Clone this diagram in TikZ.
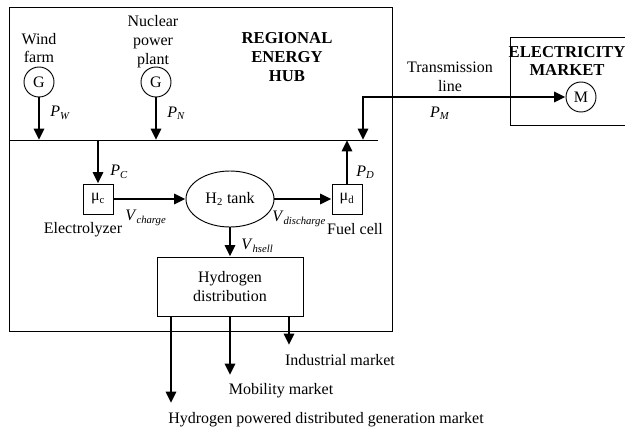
\documentclass[tikz,border=0pt]{standalone}
\usepackage{fontspec}
\setmainfont{Liberation Serif}
\usepackage{tikz}
\usetikzlibrary{shapes.geometric, arrows.meta, positioning, calc}
\newcommand{\vsub}[2]{\textit{#1}\textsubscript{\textit{#2}}}
\tikzset{
  gen/.style={circle, draw, minimum size=30*0.75pt, inner sep=0pt,
    line width=0.7pt},
  unitbox/.style={rectangle, draw, minimum size=30*0.75pt, inner sep=0pt,
    line width=0.7pt},
  tankshape/.style={ellipse, draw, minimum width=88*0.75pt,
    minimum height=56*0.75pt, inner sep=0pt, line width=0.7pt},
  distbox/.style={rectangle, draw, minimum width=146*0.75pt,
    minimum height=59*0.75pt, align=center, line width=0.7pt},
  txt/.style={align=center, inner sep=0pt},
  title/.style={align=center, inner sep=0pt, font=\fontsize{12.5}{14.2}\selectfont\bfseries},
  arrow/.style={-{Triangle[length=8.5pt, width=7.5pt]}, line width=2.1pt},
  biarrow/.style={{Triangle[length=8.5pt, width=7.5pt]}-{Triangle[length=8.5pt, width=7.5pt]},
    line width=2.1pt},
  line/.style={line width=0.7pt}
}

\begin{document}
\begin{tikzpicture}[x=0.75pt, y=-0.75pt,
  every node/.append style={font=\fontsize{12}{14.2}\selectfont}]
  \useasboundingbox (0,0) rectangle (625,429);
  % regional hub frame and busbar
  \draw[line] (9,7) rectangle (392,331);
  \coordinate (busl) at (9,140);
  \coordinate (busr) at (378,140);
  \draw[line] (busl) -- (busr);
  \node[title] (hub) at (287,57) {REGIONAL\\ENERGY\\HUB};
  % generators
  \node[gen] (gw) at (39,82) {G};
  \node[txt] (lw) at (39,48) {Wind\\farm};
  \node[gen] (gn) at (156,82) {G};
  \node[txt] (ln) at (153,42) {Nuclear\\power\\plant};
  \coordinate (bw) at (gw |- busl);
  \coordinate (bn) at (gn |- busl);
  \draw[arrow] (gw) -- (bw);
  \draw[arrow] (gn) -- (bn);
  \node[txt, anchor=west] (pw) at (50,113) {\vsub{P}{W}};
  \node[txt, anchor=west] (pn) at (167,113) {\vsub{P}{N}};
  % electrolyzer, tank, fuel cell
  \node[unitbox] (ez) at (98,199) {μ\textsubscript{c}};
  \node[txt] (lez) at (83,230) {Electrolyzer};
  \node[tankshape] (tank) at (230,199) {H\textsubscript{2} tank};
  \node[unitbox] (fc) at (347,199) {μ\textsubscript{d}};
  \node[txt] (lfc) at (355,229) {Fuel cell};
  \coordinate (bc) at (ez |- busl);
  \coordinate (bd) at (fc |- busl);
  \draw[arrow] (bc) -- (ez);
  \draw[arrow] (ez) -- (tank);
  \draw[arrow] (tank) -- (fc);
  \draw[arrow] (fc) -- (bd);
  \node[txt, anchor=west] (pc) at (110,172) {\vsub{P}{C}};
  \node[txt, anchor=west] (pd) at (356,172) {\vsub{P}{D}};
  \node[txt, anchor=west] (vc) at (125,218) {\vsub{V}{charge}};
  \node[txt, anchor=west] (vd) at (272,219) {\vsub{V}{discharge}};
  % electricity market
  \draw[line] (510,37) rectangle (640,125);
  \node[title] (em) at (567,61) {ELECTRICITY\\MARKET};
  \node[gen] (mk) at (581,97) {M};
  \coordinate (bm) at (363,140);
  \draw[biarrow] (bm) |- (mk);
  \node[txt] (tl) at (450,77) {Transmission\\line};
  \node[txt] (pm) at (440,113) {\vsub{P}{M}};
  % hydrogen distribution
  \node[distbox] (hd) at (230,286.5) {Hydrogen\\distribution};
  \draw[arrow] (tank) -- (hd);
  \node[txt, anchor=west] (vh) at (241,246) {\vsub{V}{hsell}};
  \coordinate (o1) at (171,403);
  \coordinate (o2) at (230,375);
  \coordinate (o3) at (289,345);
  \draw[arrow] (hd.south -| o1) -- (o1);
  \draw[arrow] (hd.south -| o2) -- (o2);
  \draw[arrow] (hd.south -| o3) -- (o3);
  \node[txt] (mi) at (340,360) {Industrial market};
  \node[txt] (mm) at (281,391) {Mobility market};
  \node[txt] (mg) at (326,420) {Hydrogen powered distributed generation market};
\end{tikzpicture}
\end{document}
